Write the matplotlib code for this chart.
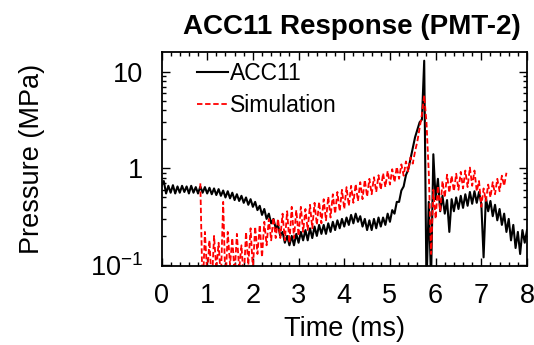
import numpy as np
import matplotlib
matplotlib.use("Agg")
import matplotlib.pyplot as plt
from matplotlib.ticker import FixedLocator, FixedFormatter, MultipleLocator, LogLocator, NullFormatter

plt.rcParams['font.family'] = ['Liberation Sans', 'DejaVu Sans']
plt.rcParams['mathtext.fontset'] = 'custom'
plt.rcParams['mathtext.rm'] = 'Liberation Sans'

title = "ACC11 Response (PMT-2)"
xlabel = "Time (ms)"
ylabel = "Pressure (MPa)"
series_names = ["ACC11", "Simulation"]

acc11_t_start, acc11_t_step = 0.0, 0.05
acc11_values = [
    0.66, 0.74, 0.55, 0.66, 0.56, 0.67, 0.55, 0.65, 0.56, 0.66,
    0.57, 0.65, 0.55, 0.66, 0.56, 0.64, 0.55, 0.65, 0.56, 0.64,
    0.55, 0.63, 0.54, 0.62, 0.53, 0.61, 0.52, 0.59, 0.50, 0.58,
    0.49, 0.56, 0.47, 0.54, 0.46, 0.52, 0.44, 0.50, 0.42, 0.48,
    0.40, 0.45, 0.37, 0.41, 0.33, 0.38, 0.30, 0.34, 0.27, 0.30,
    0.24, 0.26, 0.20, 0.22, 0.17, 0.20, 0.16, 0.20, 0.16, 0.21,
    0.17, 0.22, 0.18, 0.23, 0.18, 0.24, 0.19, 0.25, 0.20, 0.26,
    0.21, 0.26, 0.21, 0.27, 0.22, 0.28, 0.23, 0.29, 0.24, 0.30,
    0.25, 0.31, 0.26, 0.33, 0.27, 0.34, 0.28, 0.32, 0.25, 0.30,
    0.23, 0.29, 0.23, 0.30, 0.24, 0.31, 0.25, 0.31, 0.26, 0.34,
    0.28, 0.37, 0.34, 0.45, 0.45, 0.59, 0.65, 0.85, 0.97, 1.25,
    1.6, 2.1, 2.5, 3.0, 3.2, 13.0, 0.06, 0.45, 0.07, 1.4,
    0.48, 0.78, 0.36, 0.52, 0.34, 0.47, 0.22, 0.48, 0.36, 0.50,
    0.38, 0.52, 0.39, 0.54, 0.41, 0.57, 0.43, 0.58, 0.44, 0.57,
    0.43, 0.12, 0.50, 0.36, 0.46, 0.32, 0.42, 0.29, 0.38, 0.26,
    0.34, 0.22, 0.30, 0.18, 0.26, 0.15, 0.22, 0.13, 0.23, 0.17,
    0.23,
]

sim_t_start, sim_t_step = 0.85, 0.05
sim_values = [
    0.70, 0.05, 0.22, 0.08, 0.18, 0.06, 0.20, 0.09, 0.17, 0.07,
    0.45, 0.06, 0.22, 0.10, 0.19, 0.08, 0.21, 0.09, 0.16, 0.07,
    0.22, 0.10, 0.24, 0.09, 0.25, 0.13, 0.26, 0.12, 0.28, 0.16,
    0.30, 0.18, 0.31, 0.19, 0.30, 0.19, 0.34, 0.18, 0.36, 0.17,
    0.40, 0.19, 0.37, 0.20, 0.40, 0.22, 0.38, 0.23, 0.42, 0.24,
    0.44, 0.26, 0.45, 0.27, 0.48, 0.29, 0.51, 0.31, 0.54, 0.34,
    0.57, 0.36, 0.60, 0.38, 0.64, 0.41, 0.66, 0.44, 0.69, 0.46,
    0.72, 0.48, 0.76, 0.51, 0.78, 0.54, 0.81, 0.57, 0.85, 0.60,
    0.89, 0.64, 0.94, 0.68, 0.98, 0.72, 1.04, 0.78, 1.10, 0.84,
    1.18, 0.93, 1.30, 1.12, 1.5, 1.9, 2.6, 3.6, 5.7, 3.0,
    0.9, 0.13, 0.60, 0.30, 0.66, 0.36, 0.74, 0.50, 0.86, 0.56,
    0.84, 0.58, 0.88, 0.60, 0.92, 0.62, 0.95, 0.64, 1.02, 0.66,
    0.95, 0.58, 0.74, 0.40, 0.62, 0.46, 0.68, 0.50, 0.72, 0.54,
    0.78, 0.58, 0.84, 0.66, 0.90,
]

xticks = [0, 1, 2, 3, 4, 5, 6, 7, 8]
yticks = [0.1, 1, 10]
ytick_labels = [r"$\mathregular{10^{-1}}$", "1", "10"]

acc11_t = acc11_t_start + acc11_t_step * np.arange(len(acc11_values))
sim_t = sim_t_start + sim_t_step * np.arange(len(sim_values))

W, H = 534, 345
fig = plt.figure(figsize=(W / 100, H / 100), dpi=100)
L, R, T, B = 161.5, 527, 52, 266
ax = fig.add_axes([L / W, 1 - B / H, (R - L) / W, (B - T) / H])

ax.plot(acc11_t, acc11_values, color="black", lw=1.5, label=series_names[0])
ax.plot(sim_t, sim_values, color="#ff0000", lw=1.3, ls=(0, (3, 1.5)), label=series_names[1])

ax.set_yscale("log")
ax.set_xlim(0, 8)
ax.set_ylim(0.0977, 16)

ax.xaxis.set_major_locator(FixedLocator(xticks))
ax.xaxis.set_minor_locator(MultipleLocator(0.2))
ax.yaxis.set_major_locator(FixedLocator(yticks))
ax.yaxis.set_major_formatter(FixedFormatter(ytick_labels))
ax.yaxis.set_minor_locator(LogLocator(base=10, subs=np.arange(2, 10)))
ax.yaxis.set_minor_formatter(NullFormatter())

ax.tick_params(which="both", direction="in", top=True, right=True, width=1.0)
ax.tick_params(which="major", length=6)
ax.tick_params(which="minor", length=3)
ax.tick_params(axis="x", which="major", labelsize=19.5, pad=12)
ax.tick_params(axis="y", which="major", labelsize=19.5, pad=13)
for s in ax.spines.values():
    s.set_linewidth(1.3)

ax.set_xlabel(xlabel, fontsize=19.5)
ax.xaxis.set_label_coords(0.5, -0.235)
ax.set_ylabel(ylabel, fontsize=19.5)
ax.yaxis.set_label_coords(-0.32, 0.5)

fig.text(351.5 / W, 1 - 27 / H, title, fontsize=20, fontweight="bold",
         ha="center", va="center")

leg = ax.legend(loc="upper left", bbox_to_anchor=(0.096, 0.955), frameon=False,
                fontsize=16.5, handlelength=1.35, handletextpad=0.1,
                borderpad=0, borderaxespad=0, labelspacing=0.42)

fig.savefig("out.png", dpi=100)
